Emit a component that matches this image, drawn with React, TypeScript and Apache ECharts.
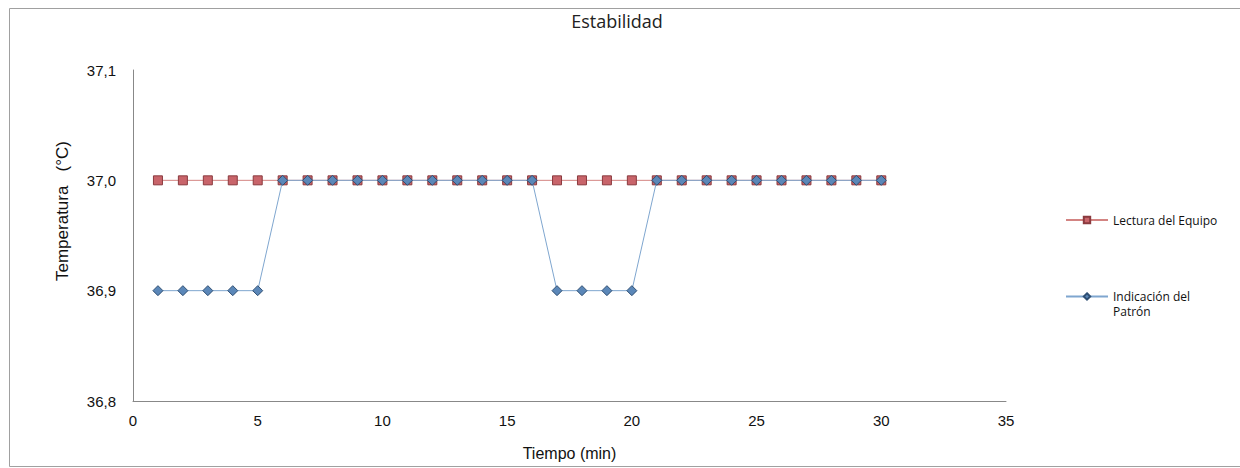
import React, { useEffect, useRef } from "react";
import * as echarts from "echarts";

const minutes = [1,2,3,4,5,6,7,8,9,10,11,12,13,14,15,16,17,18,19,20,21,22,23,24,25,26,27,28,29,30];
const lecturaEquipo = [37.0,37.0,37.0,37.0,37.0,37.0,37.0,37.0,37.0,37.0,37.0,37.0,37.0,37.0,37.0,37.0,37.0,37.0,37.0,37.0,37.0,37.0,37.0,37.0,37.0,37.0,37.0,37.0,37.0,37.0];
const indicacionPatron = [36.9,36.9,36.9,36.9,36.9,37.0,37.0,37.0,37.0,37.0,37.0,37.0,37.0,37.0,37.0,37.0,36.9,36.9,36.9,36.9,37.0,37.0,37.0,37.0,37.0,37.0,37.0,37.0,37.0,37.0];
const seriesNames = ["Lectura del Equipo", "Indicación del\nPatrón"];
const yAxisTitle = "Temperatura   (°C)";

export default function App() {
  const ref = useRef<HTMLDivElement>(null);
  useEffect(() => {
    if (!ref.current) return;
    const chart = echarts.init(ref.current, null, { renderer: "svg" });
    const fmt = (v: number) => v.toFixed(1).replace(".", ",");
    chart.setOption({
      animation: false,
      backgroundColor: "#ffffff",
      title: {
        text: "Estabilidad",
        left: 612,
        top: 7,
        textAlign: "center",
        textStyle: { fontFamily: "Open Sans", fontWeight: "normal", fontSize: 18, color: "#222" },
      },
      grid: { left: 133, right: 234, top: 70, bottom: 67, containLabel: false },
      xAxis: {
        type: "value",
        min: 0,
        max: 35,
        interval: 5,
        name: "Tiempo (min)",
        nameLocation: "middle",
        nameGap: 44,
        nameTextStyle: { fontFamily: "Liberation Sans", fontSize: 16, color: "#111" },
        axisLine: { show: true, lineStyle: { color: "#888", width: 1 } },
        axisTick: { show: false },
        splitLine: { show: false },
        axisLabel: { fontFamily: "Liberation Sans", fontSize: 15, color: "#111", margin: 12 },
      },
      yAxis: {
        type: "value",
        min: 36.8,
        max: 37.1,
        interval: 0.1,
        axisLine: { show: true, lineStyle: { color: "#888", width: 1 } },
        axisTick: { show: false },
        splitLine: { show: false },
        axisLabel: { fontFamily: "Liberation Sans", fontSize: 15, color: "#111", margin: 17, formatter: fmt },
      },
      legend: [
        {
          data: [seriesNames[0]],
          left: 1060,
          top: 209,
          orient: "vertical",
          itemWidth: 42,
          itemHeight: 8,
          textStyle: { fontFamily: "Open Sans", fontSize: 12, color: "#111" },
        },
        {
          data: [seriesNames[1]],
          left: 1060,
          top: 269,
          orient: "vertical",
          itemWidth: 42,
          itemHeight: 8,
          formatter: (n: string) => "\u00a0\n" + n,
          textStyle: { fontFamily: "Open Sans", fontSize: 12, color: "#111", lineHeight: 15 },
        },
      ],
      graphic: [
        {
          type: "polyline",
          shape: { points: [[1240, 8.5], [9.5, 8.5], [9.5, 466.5], [1240, 466.5]] },
          style: { fill: "none", stroke: "#a0a0a0", lineWidth: 1 },
          silent: true,
        },
        {
          type: "text",
          x: 62,
          y: 211,
          rotation: Math.PI / 2,
          style: {
            text: yAxisTitle,
            fontFamily: "Liberation Sans",
            fontSize: 17,
            fill: "#111",
            align: "center",
            verticalAlign: "middle",
          },
          silent: true,
        },
      ],
      series: [
        {
          name: seriesNames[0],
          type: "line",
          data: minutes.map((m, i) => [m, lecturaEquipo[i]]),
          symbol: "rect",
          symbolSize: 9,
          itemStyle: { color: "#c8646a", borderColor: "#8a3a3e", borderWidth: 1 },
          lineStyle: { color: "#c0504d", width: 1, opacity: 0.7 },
          z: 2,
        },
        {
          name: seriesNames[1],
          type: "line",
          data: minutes.map((m, i) => [m, indicacionPatron[i]]),
          symbol: "diamond",
          symbolSize: 10,
          itemStyle: { color: "#5b87b8", borderColor: "#2f4f73", borderWidth: 1 },
          lineStyle: { color: "#7fa6cf", width: 1 },
          z: 3,
        },
      ],
    });
    return () => chart.dispose();
  }, []);
  return <div ref={ref} style={{ position: "fixed", left: 0, top: 0, width: 1240, height: 468 }} />;
}
